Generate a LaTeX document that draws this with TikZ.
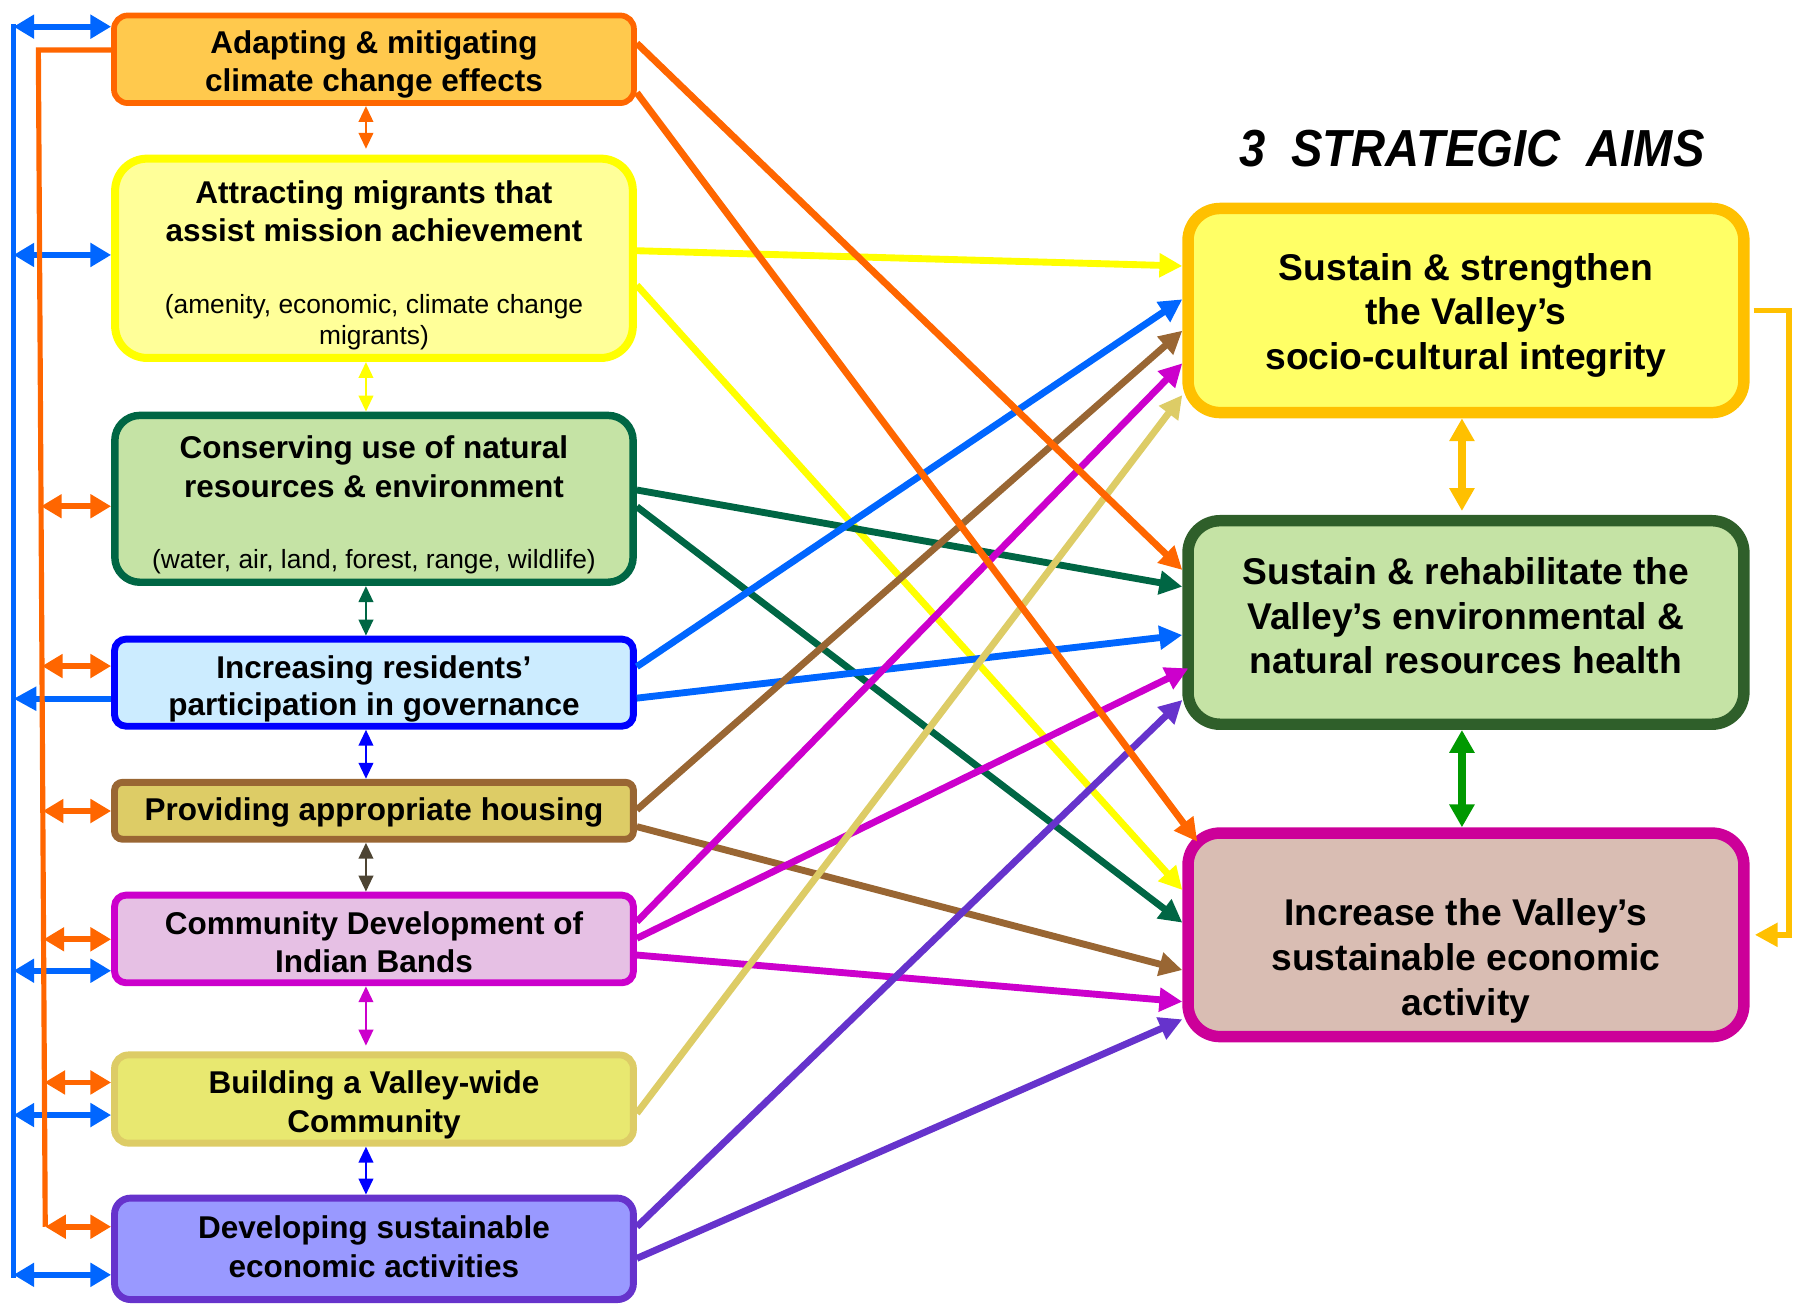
\documentclass[tikz,border=0pt]{standalone}
\usepackage{fontspec}
\usepackage{graphicx}
\setmainfont{Liberation Sans}
\usetikzlibrary{arrows.meta,calc}
\definecolor{cOr}{HTML}{FF6600}
\definecolor{cOrFill}{HTML}{FFC94D}
\definecolor{cYe}{HTML}{FFFF00}
\definecolor{cYeFill}{HTML}{FFFF99}
\definecolor{cDg}{HTML}{006644}
\definecolor{cLg}{HTML}{C5E3A5}
\definecolor{cBl}{HTML}{0000FF}
\definecolor{cLb}{HTML}{CCECFF}
\definecolor{cBr}{HTML}{996633}
\definecolor{cKh}{HTML}{DDCC66}
\definecolor{cMa}{HTML}{CC00CC}
\definecolor{cPk}{HTML}{E6C0E4}
\definecolor{cYk}{HTML}{E8E870}
\definecolor{cPu}{HTML}{6633CC}
\definecolor{cLv}{HTML}{9999FF}
\definecolor{cAb}{HTML}{0066FF}
\definecolor{cGold}{HTML}{FFC000}
\definecolor{cAfill}{HTML}{FFFF66}
\definecolor{cBg}{HTML}{2F5F2A}
\definecolor{cCfill}{HTML}{D9BDB3}
\definecolor{cCb}{HTML}{CC0099}
\definecolor{cGr}{HTML}{009900}
\definecolor{cDk}{HTML}{4D4433}
\begin{document}
\begin{tikzpicture}[x=1pt,y=-1pt,
  box/.style={draw, rectangle, inner sep=0pt},
  conn/.style={line width=6pt, -{Triangle[length=20pt,width=20pt]}},
  busline/.style={line width=5pt},
  busar/.style={line width=5pt, {Triangle[length=18pt,width=20pt]}-{Triangle[length=18pt,width=20pt]}},
  vsmall/.style={line width=2.5pt, {Triangle[length=14pt,width=12.5pt]}-{Triangle[length=14pt,width=12.5pt]}},
  vbig/.style={line width=7pt, {Triangle[length=20pt,width=21pt]}-{Triangle[length=20pt,width=21pt]}},
  ltext/.style={font=\fontsize{27.5pt}{33pt}\selectfont\bfseries, anchor=base, inner sep=0pt},
  stext/.style={font=\fontsize{23pt}{28pt}\selectfont, anchor=base, inner sep=0pt},
  rtext/.style={font=\fontsize{32.5pt}{39pt}\selectfont\bfseries, anchor=base, inner sep=0pt}
]
\useasboundingbox (0,0) rectangle (1568,1139.4);

% left boxes
\node[box, line width=5pt, draw=cOr, fill=cOrFill, rounded corners=12pt, minimum width=454pt, minimum height=76.5pt] (b1) at (326.5,51.75) {};
\node[box, line width=7pt, draw=cYe, fill=cYeFill, rounded corners=28pt, minimum width=452pt, minimum height=174pt] (b2) at (326.5,225.5) {};
\node[box, line width=6.5pt, draw=cDg, fill=cLg, rounded corners=22pt, minimum width=452.5pt, minimum height=145.7pt] (b3) at (326.5,435.5) {};
\node[box, line width=6pt, draw=cBl, fill=cLb, rounded corners=10pt, minimum width=453pt, minimum height=76pt] (b4) at (326.5,596) {};
\node[box, line width=6pt, draw=cBr, fill=cKh, rounded corners=7pt, minimum width=453pt, minimum height=49.7pt] (b5) at (326.5,707.85) {};
\node[box, line width=6pt, draw=cMa, fill=cPk, rounded corners=10pt, minimum width=453pt, minimum height=76.5pt] (b6) at (326.5,819.75) {};
\node[box, line width=6pt, draw=cKh, fill=cYk, rounded corners=12pt, minimum width=453pt, minimum height=77pt] (b7) at (326.5,959.5) {};
\node[box, line width=6pt, draw=cPu, fill=cLv, rounded corners=14pt, minimum width=453pt, minimum height=88.6pt] (b8) at (326.5,1090.3) {};

% right boxes
\node[box, line width=10pt, draw=cGold, fill=cAfill, rounded corners=28pt, minimum width=485.3pt, minimum height=178.2pt] (A) at (1279.85,271.1) {};
\node[box, line width=10pt, draw=cBg, fill=cLg, rounded corners=28pt, minimum width=485.3pt, minimum height=177.7pt] (B) at (1279.85,543.45) {};
\node[box, line width=10pt, draw=cCb, fill=cCfill, rounded corners=28pt, minimum width=485.3pt, minimum height=177.7pt] (C) at (1279.85,816.15) {};

% blue bus
\coordinate (bt) at (11.8,20.8);
\coordinate (bb) at (11.8,1115.5);
\draw[busline, cAb] (bt) -- (bb);
\coordinate (bu1) at (11.8,23.3);
\coordinate (bu2) at (11.8,222.6);
\coordinate (bu4) at (11.8,610);
\coordinate (bu6) at (11.8,847.5);
\coordinate (bu7) at (11.8,973.5);
\coordinate (bu8) at (11.8,1113);
\draw[busar, cAb] (bu1) -- (bu1 -| b1.west);
\draw[busar, cAb] (bu2) -- (bu2 -| b2.west);
\draw[busline, cAb, -{Triangle[length=20pt,width=20pt]}] (bu4 -| b4.west) -- (bu4);
\draw[busar, cAb] (bu6) -- (bu6 -| b6.west);
\draw[busar, cAb] (bu7) -- (bu7 -| b7.west);
\draw[busar, cAb] (bu8) -- (bu8 -| b8.west);

% orange bus
\coordinate (ot) at (33.5,43.7);
\coordinate (ob) at (39.5,1071);
\draw[line width=4.5pt, cOr] (ot -| b1.west) -- (ot) -- (ob);
\coordinate (o3) at ($(ot)!0.3877!(ob)$);
\coordinate (o4) at ($(ot)!0.5235!(ob)$);
\coordinate (o5) at ($(ot)!0.6467!(ob)$);
\coordinate (o6) at ($(ot)!0.7557!(ob)$);
\coordinate (o7) at ($(ot)!0.8774!(ob)$);
\draw[busar, cOr] (o3) -- (o3 -| b3.west);
\draw[busar, cOr] (o4) -- (o4 -| b4.west);
\draw[busar, cOr] (o5) -- (o5 -| b5.west);
\draw[busar, cOr] (o6) -- (o6 -| b6.west);
\draw[busar, cOr] (o7) -- (o7 -| b7.west);
\draw[busar, cOr] (ob) -- (ob -| b8.west);

% small vertical arrows between left boxes
\draw[vsmall, cOr, shorten >=5pt] ([xshift=-7pt]b1.south) -- ([xshift=-7pt]b2.north);
\draw[vsmall, cYe] ([xshift=-7pt]b2.south) -- ([xshift=-7pt]b3.north);
\draw[vsmall, cDg] ([xshift=-7pt]b3.south) -- ([xshift=-7pt]b4.north);
\draw[vsmall, cBl] ([xshift=-7pt]b4.south) -- ([xshift=-7pt]b5.north);
\draw[vsmall, cDk] ([xshift=-7pt]b5.south) -- ([xshift=-7pt]b6.north);
\draw[vsmall, cMa, shorten >=5pt] ([xshift=-7pt]b6.south) -- ([xshift=-7pt]b7.north);
\draw[vsmall, cBl] ([xshift=-7pt]b7.south) -- ([xshift=-7pt]b8.north);

% right vertical arrows
\draw[vbig, cGold, shorten >=3.5pt] ([xshift=-3.5pt]A.south) -- ([xshift=-3.5pt]B.north);
\draw[vbig, cGr] ([xshift=-3.5pt]B.south) -- ([xshift=-3.5pt]C.north);

% loop connector
\coordinate (lc) at (1561.6,540);
\draw[line width=5pt, cGold, -{Triangle[length=20pt,width=20pt]}] ([xshift=3.5pt]A.east) -| (lc) |- ([xshift=4.5pt]C.east);

% diagonal connectors
\draw[conn, cYe] ([yshift=6.6pt]b2.east) -- ([yshift=38.9pt]A.west);
\draw[conn, cYe] ([yshift=-23.5pt]b2.east) -- ([yshift=39.15pt]C.west);
\draw[conn, cDg] ([yshift=7.7pt]b3.east) -- ([yshift=31.25pt]B.west);
\draw[conn, cDg] ([yshift=-6.9pt]b3.east) -- ([yshift=10.65pt]C.west);
\draw[conn, cAb] ([yshift=14pt]b4.east) -- ([yshift=9.8pt]A.west);
\draw[conn, cAb] ([yshift=-13.5pt]b4.east) -- ([yshift=-10.95pt]B.west);
\draw[conn, cBr] ([yshift=0.85pt]b5.east) -- ([yshift=-17.6pt]A.west);
\draw[conn, cBr] ([yshift=-13.85pt]b5.east) -- ([yshift=-30.75pt]C.west);
\draw[conn, cMa] ([yshift=15.05pt]b6.east) -- ([yshift=-46.1pt]A.west);
\draw[conn, cMa] ([yshift=0.55pt]b6.east) -- ([xshift=5.3pt,yshift=-40.05pt]B.west);
\draw[conn, cMa] ([yshift=-14.05pt]b6.east) -- ([yshift=-58.35pt]C.west);
\draw[conn, cKh] ([yshift=-12.5pt]b7.east) -- ([yshift=-73.8pt]A.west);
\draw[conn, cPu] ([yshift=19.3pt]b8.east) -- ([yshift=-67.65pt]B.west);
\draw[conn, cPu] ([yshift=-8.3pt]b8.east) -- ([yshift=-73.75pt]C.west);
\draw[conn, cOr] ([yshift=13.95pt]b1.east) -- ([yshift=45.85pt]B.west);
\draw[conn, cOr] ([yshift=-29.25pt]b1.east) -- ([xshift=13.1pt,yshift=-12.5pt]C.north west);

% title
\node[font=\fontsize{45.5pt}{50pt}\selectfont\bfseries\itshape, anchor=base, inner sep=0pt] (title) at (1285,145.5) {\scalebox{0.905}[1]{3\ \ STRATEGIC\ \ AIMS}};

% left texts
\node[ltext] (t1a) at (326.5,47) {Adapting \& mitigating};
\node[ltext] (t1b) at (326.5,79.5) {climate change effects};
\node[ltext] (t2a) at (326.5,177.5) {Attracting migrants that};
\node[ltext] (t2b) at (326.5,210.5) {assist mission achievement};
\node[stext] (t2c) at (326.5,274) {(amenity, economic, climate change};
\node[stext] (t2d) at (326.5,300.5) {migrants)};
\node[ltext] (t3a) at (326.5,400) {Conserving use of natural};
\node[ltext] (t3b) at (326.5,434) {resources \& environment};
\node[stext] (t3c) at (326.5,496.5) {(water, air, land, forest, range, wildlife)};
\node[ltext] (t4a) at (326.5,592.5) {Increasing residents’};
\node[ltext] (t4b) at (326.5,625) {participation in governance};
\node[ltext] (t5a) at (326.5,716.5) {Providing appropriate housing};
\node[ltext] (t6a) at (326.5,815.5) {Community Development of};
\node[ltext] (t6b) at (326.5,849) {Indian Bands};
\node[ltext] (t7a) at (326.5,955) {Building a Valley-wide};
\node[ltext] (t7b) at (326.5,988.5) {Community};
\node[ltext] (t8a) at (326.5,1081.5) {Developing sustainable};
\node[ltext] (t8b) at (326.5,1115) {economic activities};

% right texts
\node[rtext] (tAa) at (1279.85,244.5) {Sustain \& strengthen};
\node[rtext] (tAb) at (1279.85,283.7) {the Valley’s};
\node[rtext] (tAc) at (1279.85,323) {socio-cultural integrity};
\node[rtext] (tBa) at (1279.85,510.7) {Sustain \& rehabilitate the};
\node[rtext] (tBb) at (1279.85,550) {Valley’s environmental \&};
\node[rtext] (tBc) at (1279.85,587.8) {natural resources health};
\node[rtext] (tCa) at (1279.85,807.6) {Increase the Valley’s};
\node[rtext] (tCb) at (1279.85,846.9) {sustainable economic};
\node[rtext] (tCc) at (1279.85,886.2) {activity};
\end{tikzpicture}
\end{document}
